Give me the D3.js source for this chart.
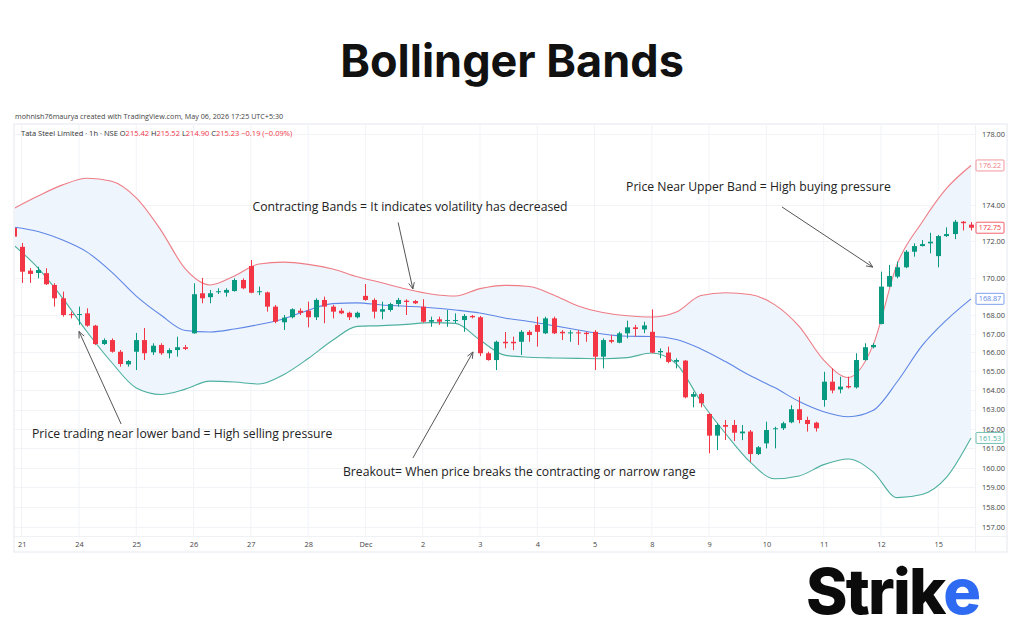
<!DOCTYPE html>
<html><head><meta charset="utf-8">
<script src="https://cdn.jsdelivr.net/npm/d3@7"></script>
<style>
html,body{margin:0;padding:0;background:#fff;}
svg{display:block;}
</style></head>
<body>
<svg id="chart" width="1024" height="640"></svg>
<script>
// ---------- DATA ----------
const dayLabels = ["21","24","25","26","27","28","Dec","2","3","4","5","8","9","10","11","12","15"];
const candlesPerDay = 7;
const firstCandleIndex = -1; // index of first entry below (partial candle at left edge)
const opens  = [172.74,171.70,170.40,170.27,170.26,169.62,168.90,168.05,168.03,168.09,167.43,166.45,166.66,166.04,165.37,166.04,166.66,166.01,166.40,165.96,166.13,166.28,
 167.02,169.17,168.96,169.24,169.20,169.29,169.89,170.65,169.24,169.22,168.45,167.61,167.88,168.23,168.23,167.88,168.81,168.45,168.23,168.12,167.88,
 169.03,168.81,168.18,168.27,168.59,168.77,168.75,168.45,167.64,167.77,167.71,167.71,167.73,167.95,167.88,165.96,165.60,166.57,166.57,166.57,167.10,
 167.47,167.02,167.82,167.10,167.04,167.07,167.05,167.10,165.78,166.66,166.52,167.02,167.34,167.23,167.10,166.01,166.00,165.51,165.57,163.67,163.81,
 162.77,161.65,162.20,162.20,161.77,161.86,160.70,161.25,161.98,162.03,162.34,163.02,162.46,162.32,163.50,164.46,164.05,164.23,164.16,165.60,166.28,
 167.52,169.53,170.07,170.58,171.43,171.74,171.89,171.19,172.29,172.40,173.08,172.92];
const highs  = [172.85,171.91,170.54,170.61,170.53,169.71,169.26,168.18,168.45,168.36,167.47,166.75,166.75,166.13,165.60,167.04,167.30,166.49,166.49,166.22,166.84,166.40,
 169.71,170.00,169.35,169.44,169.44,169.98,169.98,170.98,169.53,169.26,168.54,168.00,168.36,168.36,168.72,168.90,168.99,168.54,168.36,168.18,168.18,
 169.67,168.90,168.72,168.66,168.92,168.85,168.81,168.85,167.91,167.91,168.27,168.09,168.05,168.00,167.95,166.04,166.63,167.09,166.84,167.19,167.19,
 167.91,167.91,167.91,167.19,167.19,167.19,167.10,167.19,166.75,166.93,167.10,167.70,167.47,167.64,168.30,166.22,166.31,165.69,165.60,163.93,163.88,
 162.81,162.29,162.46,162.46,162.20,161.94,161.11,162.37,162.11,162.37,163.23,163.67,162.63,162.37,164.98,165.16,164.72,164.72,165.96,166.49,166.49,
 170.34,170.71,170.89,171.52,171.89,172.07,172.47,172.35,172.77,173.18,173.12,173.06];
const lows   = [172.10,169.73,169.73,169.98,169.62,168.45,167.91,167.82,167.47,167.37,166.40,166.40,165.99,165.25,165.25,165.07,165.60,165.87,165.87,165.69,165.78,166.13,
 167.00,168.63,168.63,169.13,168.99,169.26,169.39,169.17,169.07,168.18,167.56,167.20,167.82,168.00,167.34,167.73,167.56,167.82,168.05,167.73,167.82,
 168.77,167.82,167.77,168.18,168.45,168.00,168.59,167.59,167.37,167.47,167.37,167.56,167.10,167.82,165.81,165.57,165.07,166.22,166.13,165.87,166.57,
 166.31,166.98,166.98,166.66,166.57,166.40,166.57,165.07,165.16,166.49,166.49,166.75,166.84,167.03,165.96,165.69,165.43,165.16,163.59,163.12,163.12,
 160.74,160.91,161.42,161.37,161.42,160.30,160.65,160.99,160.99,161.94,162.29,162.29,161.86,161.86,163.15,163.85,163.85,164.10,164.10,165.57,166.22,
 167.50,169.50,169.98,170.53,171.16,171.72,171.34,170.58,172.24,172.12,172.60,172.60];
const closes = [172.26,170.34,170.22,170.43,169.66,168.90,168.00,168.02,168.05,167.43,166.45,166.66,166.04,165.39,165.55,166.66,165.96,166.36,165.96,166.13,166.28,166.19,
 169.12,168.90,169.17,169.28,169.35,169.89,169.44,169.20,169.28,168.45,167.64,167.86,168.31,168.12,167.88,168.81,168.45,168.18,168.09,167.88,168.12,
 168.81,168.18,168.31,168.59,168.81,168.70,168.63,167.64,167.73,167.64,167.73,167.73,167.95,167.88,165.96,165.60,166.57,166.49,166.49,167.10,166.93,
 167.10,167.82,167.02,167.02,167.07,167.04,166.98,165.78,166.66,166.57,167.02,167.34,167.25,167.44,165.99,166.08,165.50,165.60,163.64,163.81,163.33,
 161.65,162.20,162.11,161.80,161.86,160.70,161.05,161.94,162.03,162.29,163.02,162.46,162.25,162.03,164.46,164.00,164.20,164.16,165.60,166.28,166.40,
 169.53,170.11,170.58,171.43,171.74,171.85,171.98,172.29,172.40,173.08,173.00,172.75];

// Bollinger band readings, every third candle starting at index -1
const bandStep = 3;
const upperBand  = [173.81,174.51,175.13,175.50,175.33,174.40,172.62,170.49,169.62,170.11,170.76,170.86,170.74,170.49,170.07,169.74,169.40,169.13,169.02,169.42,
 169.60,169.54,169.08,168.48,168.13,167.96,167.89,168.16,169.05,169.20,169.10,168.56,167.39,165.60,164.68,166.35,170.78,173.04,174.93,176.22];
const middleBand = [172.79,172.54,172.07,171.41,170.32,169.02,168.00,167.17,167.09,167.25,167.49,167.79,168.26,168.61,168.65,168.54,168.47,168.39,168.27,168.11,
 167.84,167.65,167.43,167.20,166.98,166.86,166.85,166.69,166.19,165.52,164.78,164.15,163.42,162.89,162.63,162.95,164.47,166.35,167.73,168.87];
const lowerBand  = [171.80,170.54,168.91,167.09,165.47,164.13,163.79,164.07,164.49,164.44,164.34,164.83,165.68,166.65,167.39,167.43,167.50,167.59,167.55,166.66,
 165.86,165.75,165.71,165.69,165.67,165.73,165.97,165.39,163.42,161.76,160.30,159.44,159.58,160.16,160.45,159.80,158.48,158.64,159.51,161.53];

const priceTicks = [178,174,172,170,168,167,166,165,164,163,162,161,160,159,158,157];

const lastValues = [
  {value: 176.22, kind: "upper"},
  {value: 172.75, kind: "close"},
  {value: 168.87, kind: "middle"},
  {value: 161.53, kind: "lower"}
];

// annotations anchored in data space (candle index, price)
const annotations = [
  {text: "Contracting Bands = It indicates volatility has decreased", tx: 28.2, tp: 173.67, from: [46.0, 173.04], to: [47.8, 169.40]},
  {text: "Price Near Upper Band = High buying pressure", tx: 73.85, tp: 174.79, from: [92.9, 173.90], to: [104.0, 170.59]},
  {text: "Price trading near lower band = High selling pressure", tx: 1.26, tp: 161.55, from: [12.15, 162.25], to: [7.0, 167.12]},
  {text: "Breakout= When price breaks the contracting or narrow range", tx: 39.26, tp: 159.60, from: [47.8, 160.50], to: [55.15, 166.03]}
];

// ---------- LAYOUT ----------
const pane = {left: 14, right: 975, top: 124, bottom: 536};
const frameRight = 1007, frameBottom = 552;
const colors = {up: "#089981", down: "#F23645", upper: "#EF7C85", middle: "#5E86E6", lower: "#4DB09F", fill: "#EEF5FC", grid: "#F1F3F7"};

const svg = d3.select("#chart");

const x = d3.scaleLinear().domain([0, 116]).range([21.7, 971.0]);
const y = d3.scaleLog().domain([157, 178]).range([527, 134]);

const candles = opens.map((o, i) => ({i: i + firstCandleIndex, o, h: highs[i], l: lows[i], c: closes[i]}));
const bands = upperBand.map((u, k) => ({i: firstCandleIndex + k * bandStep, u, m: middleBand[k], lo: lowerBand[k]}));

// Title
svg.append("text").attr("x", 512).attr("y", 77).attr("text-anchor", "middle")
  .attr("font-family", "Inter, 'Open Sans', sans-serif").attr("font-weight", 700).attr("font-size", 45)
  .attr("fill", "#111").text("Bollinger Bands");

// header line
svg.append("text").attr("x", 15).attr("y", 119)
  .attr("font-family", "'Open Sans', 'Noto Sans', sans-serif").attr("font-size", 7.2).attr("fill", "#444")
  .text("mohnish76maurya created with TradingView.com, May 06, 2026 17:25 UTC+5:30");

// frame
svg.append("rect").attr("x", pane.left).attr("y", pane.top).attr("width", frameRight - pane.left).attr("height", frameBottom - pane.top)
  .attr("fill", "#fff").attr("stroke", "#E6E8EE").attr("stroke-width", 1);

// grid
const dayIdx = dayLabels.map((d, k) => k * candlesPerDay);
const grid = svg.append("g");
grid.selectAll("line.v").data(dayIdx).join("line")
  .attr("x1", d => x(d)).attr("x2", d => x(d)).attr("y1", pane.top).attr("y2", pane.bottom)
  .attr("stroke", colors.grid).attr("stroke-width", 1);
grid.selectAll("line.h").data(priceTicks).join("line")
  .attr("x1", pane.left).attr("x2", pane.right).attr("y1", d => Math.round(y(d)) + 0.5).attr("y2", d => Math.round(y(d)) + 0.5)
  .attr("stroke", colors.grid).attr("stroke-width", 1);
svg.append("line").attr("x1", pane.right + 0.5).attr("x2", pane.right + 0.5).attr("y1", pane.top).attr("y2", frameBottom).attr("stroke", "#F0F1F5");
svg.append("line").attr("x1", pane.left).attr("x2", frameRight).attr("y1", pane.bottom + 0.5).attr("y2", pane.bottom + 0.5).attr("stroke", "#F0F1F5");

// symbol line
const sym = svg.append("text").attr("x", 21).attr("y", 136)
  .attr("font-family", "'Open Sans', 'Noto Sans', sans-serif").attr("font-size", 7.5).attr("fill", "#333");
sym.append("tspan").text("Tata Steel Limited · 1h · NSE  ");
[["O","215.42"],["H","215.52"],["L","214.90"],["C","215.23"]].forEach(([k, v]) => {
  sym.append("tspan").attr("fill", "#333").text(k);
  sym.append("tspan").attr("fill", colors.down).text(v + "  ");
});
sym.append("tspan").attr("fill", colors.down).text("−0.19 (−0.09%)");

// clip
svg.append("defs").append("clipPath").attr("id", "paneClip").append("rect")
  .attr("x", pane.left + 1).attr("y", pane.top + 1).attr("width", pane.right - pane.left - 1).attr("height", pane.bottom - pane.top - 1);
const plot = svg.append("g").attr("clip-path", "url(#paneClip)");

// band fill + lines
const curve = d3.curveMonotoneX;
plot.append("path").datum(bands)
  .attr("d", d3.area().x(d => x(d.i)).y0(d => y(d.lo)).y1(d => y(d.u)).curve(curve))
  .attr("fill", colors.fill);
[["u", colors.upper], ["m", colors.middle], ["lo", colors.lower]].forEach(([k, col]) => {
  plot.append("path").datum(bands)
    .attr("d", d3.line().x(d => x(d.i)).y(d => y(d[k])).curve(curve))
    .attr("fill", "none").attr("stroke", col).attr("stroke-width", 1.1);
});

// candles
const bodyW = 5;
const cg = plot.append("g").selectAll("g").data(candles).join("g");
cg.append("line")
  .attr("x1", d => Math.round(x(d.i)) + 0.5).attr("x2", d => Math.round(x(d.i)) + 0.5)
  .attr("y1", d => y(d.h)).attr("y2", d => y(d.l))
  .attr("stroke", d => d.c >= d.o ? colors.up : colors.down).attr("stroke-width", 1);
cg.append("rect")
  .attr("x", d => Math.round(x(d.i)) + 0.5 - bodyW / 2).attr("width", bodyW)
  .attr("y", d => y(Math.max(d.o, d.c)))
  .attr("height", d => Math.max(1, y(Math.min(d.o, d.c)) - y(Math.max(d.o, d.c))))
  .attr("fill", d => d.c >= d.o ? colors.up : colors.down);

// price axis
const yAxis = d3.axisRight(y).tickValues(priceTicks).tickFormat(d3.format(".2f")).tickSize(0).tickPadding(0);
const ya = svg.append("g").attr("transform", `translate(${pane.right + 7},0)`).call(yAxis);
ya.select(".domain").remove();
ya.selectAll("text").attr("font-family", "'Open Sans', 'Noto Sans', sans-serif").attr("font-size", 7.4).attr("fill", "#444");

// last value labels
const lvColor = {upper: colors.upper, close: colors.down, middle: colors.middle, lower: colors.lower};
const lv = svg.append("g").selectAll("g").data(lastValues).join("g")
  .attr("transform", d => `translate(${pane.right + 1},${y(d.value)})`);
lv.append("rect").attr("x", 0).attr("y", -5.5).attr("width", 28).attr("height", 11).attr("rx", 1)
  .attr("fill", "#fff").attr("stroke", d => lvColor[d.kind]).attr("stroke-width", 0.8);
lv.append("text").attr("x", 14).attr("y", 2.6).attr("text-anchor", "middle")
  .attr("font-family", "'Open Sans', 'Noto Sans', sans-serif").attr("font-size", 7.2)
  .attr("fill", d => lvColor[d.kind]).text(d => d.value.toFixed(2));

// time axis
const xAxis = d3.axisBottom(x).tickValues(dayIdx).tickFormat((d, k) => dayLabels[k]).tickSize(0).tickPadding(0);
const xa = svg.append("g").attr("transform", `translate(0,${pane.bottom + 4})`).call(xAxis);
xa.select(".domain").remove();
xa.selectAll("text").attr("font-family", "'Open Sans', 'Noto Sans', sans-serif").attr("font-size", 7.4).attr("fill", "#444").attr("dy", "0.9em");

// annotations
const defs = svg.select("defs");
defs.append("marker").attr("id", "arrow").attr("viewBox", "0 0 10 10").attr("refX", 9).attr("refY", 5)
  .attr("markerWidth", 8).attr("markerHeight", 8).attr("orient", "auto")
  .append("path").attr("d", "M1,1.5 L9,5 L1,8.5").attr("fill", "none").attr("stroke", "#555").attr("stroke-width", 1.1);
const ann = svg.append("g").selectAll("g").data(annotations).join("g");
ann.append("line")
  .attr("x1", d => x(d.from[0])).attr("y1", d => y(d.from[1]))
  .attr("x2", d => x(d.to[0])).attr("y2", d => y(d.to[1]))
  .attr("stroke", "#555").attr("stroke-width", 1).attr("marker-end", "url(#arrow)");
ann.append("text").attr("x", d => x(d.tx)).attr("y", d => y(d.tp))
  .attr("font-family", "'Open Sans', 'Noto Sans', sans-serif").attr("font-size", 12.2).attr("fill", "#222")
  .text(d => d.text);

// logo
const logo = svg.append("text").attr("x", 806).attr("y", 614)
  .attr("font-family", "Inter, 'Open Sans', sans-serif").attr("font-weight", 800).attr("font-size", 63).attr("letter-spacing", -1.8)
  .attr("fill", "#0b0b0b");
logo.append("tspan").text("Stri");
logo.append("tspan").text("k");
logo.append("tspan").attr("fill", "#2F6BF2").text("e");
</script>
</body></html>
